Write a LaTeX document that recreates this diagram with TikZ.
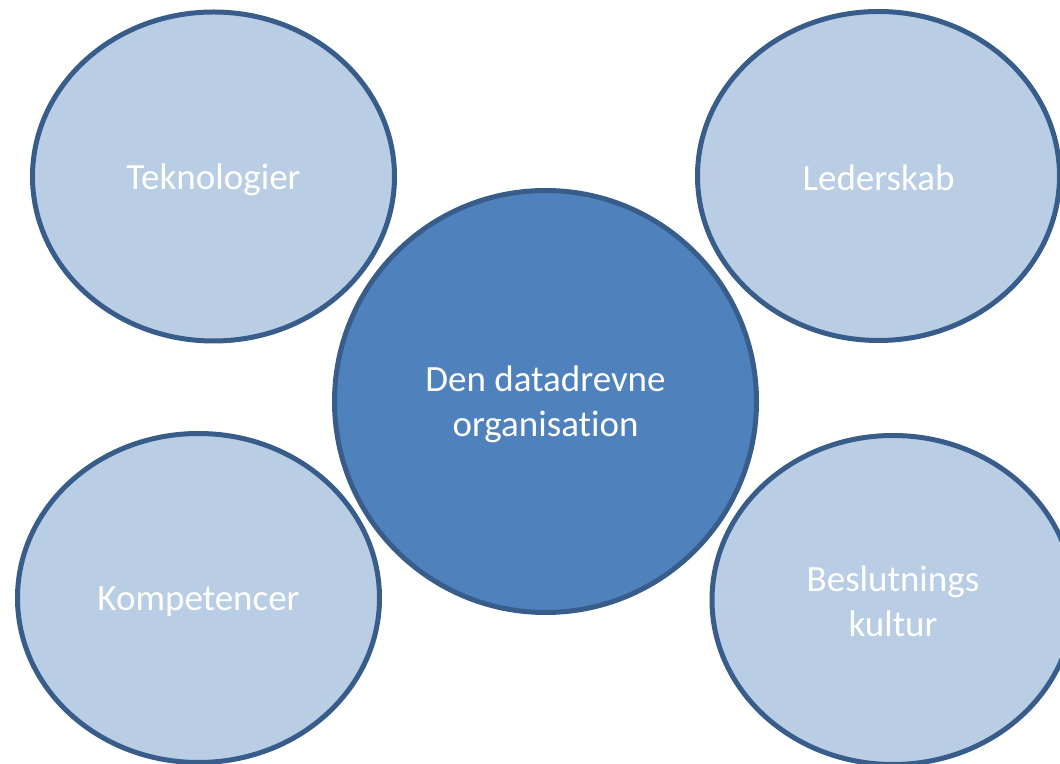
\documentclass[tikz,border=0pt]{standalone}
\usepackage{fontspec}
\setmainfont[Ligatures=NoCommon]{Carlito}
\usetikzlibrary{shapes.geometric}
\definecolor{lightfill}{HTML}{B9CDE5}
\definecolor{darkfill}{HTML}{4F81BD}
\definecolor{edge}{HTML}{385D8A}
\tikzset{
  bubble/.style={ellipse, draw=edge, line width=5pt, fill=lightfill, minimum width=362pt, minimum height=329pt, inner sep=0pt, text=white, align=center, font=\fontsize{37}{45}\selectfont},
  hub/.style={circle, draw=edge, line width=5pt, fill=darkfill, minimum size=422pt, inner sep=0pt, text=white, align=center, font=\fontsize{37}{45}\selectfont},
  lbl/.style={text=white, align=center, font=\fontsize{37}{45}\selectfont}
}
\begin{document}
\begin{tikzpicture}[x=1pt,y=1pt]
\useasboundingbox (0,0) rectangle (1060,763);
\node[bubble] (tek) at (213.5,{763-176.5}) {};
\node[bubble] (led) at (878.5,{763-176}) {};
\node[bubble] (kom) at (198.5,{763-598}) {};
\node[bubble] (bes) at (893,{763-600}) {};
\node[hub] (den) at (545.5,{763-401.5}) {};
\node[lbl, yshift=-3pt] (tekl) at (tek) {Teknologier};
\node[lbl, yshift=-2pt] (ledl) at (led) {Lederskab};
\node[lbl, yshift=-4pt] (koml) at (kom) {Kompetencer};
\node[lbl, yshift=-1pt] (besl) at (bes) {Beslutnings\\kultur};
\node[lbl, yshift=-3pt] (denl) at (den) {Den datadrevne\\organisation};
\end{tikzpicture}
\end{document}
